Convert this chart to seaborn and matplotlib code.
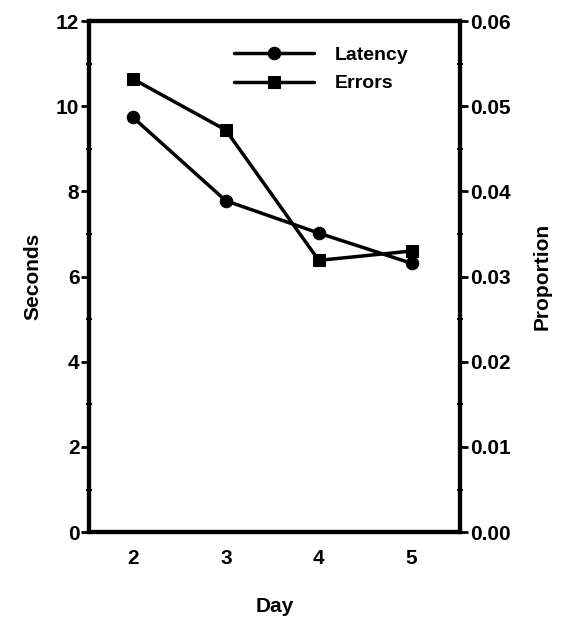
import matplotlib
matplotlib.use("Agg")
import matplotlib.pyplot as plt
import seaborn as sns
import pandas as pd
from matplotlib.ticker import MultipleLocator

sns.set_theme(style="white")
plt.rcParams['font.family'] = ['Liberation Sans', 'DejaVu Sans']
plt.rcParams['font.weight'] = 'bold'
plt.rcParams['text.color'] = 'black'
plt.rcParams['axes.labelcolor'] = 'black'
plt.rcParams['xtick.color'] = 'black'
plt.rcParams['ytick.color'] = 'black'

days = [2, 3, 4, 5]
latency_seconds = [9.74, 7.78, 7.02, 6.31]
errors_proportion = [0.0532, 0.0472, 0.0319, 0.0330]
left_ticks = [0, 2, 4, 6, 8, 10, 12]
right_ticks = [0.00, 0.01, 0.02, 0.03, 0.04, 0.05, 0.06]
right_tick_labels = ["0.00", "0.01", "0.02", "0.03", "0.04", "0.05", "0.06"]

df_lat = pd.DataFrame({"Day": days, "Seconds": latency_seconds})
df_err = pd.DataFrame({"Day": days, "Proportion": errors_proportion})

fig = plt.figure(figsize=(5.61, 6.18), dpi=100)
ax = fig.add_axes([0.159, 0.139, 0.661, 0.827])
ax2 = ax.twinx()

sns.lineplot(data=df_lat, x="Day", y="Seconds", ax=ax, color="black",
             marker="o", markersize=9, linewidth=2.5, markeredgecolor="black",
             label="Latency", legend=False)
sns.lineplot(data=df_err, x="Day", y="Proportion", ax=ax2, color="black",
             marker="s", markersize=9, linewidth=2.5, markeredgecolor="black",
             label="Errors", legend=False)

ax.set_xlim(1.53, 5.52)
ax.set_ylim(0, 12)
ax2.set_ylim(0, 0.06)

ax.set_yticks(left_ticks)
ax.set_yticklabels([str(t) for t in left_ticks], fontsize=15, fontweight='bold')
ax.yaxis.set_minor_locator(MultipleLocator(1))
ax2.set_yticks(right_ticks)
ax2.set_yticklabels(right_tick_labels, fontsize=15, fontweight='bold')
ax2.yaxis.set_minor_locator(MultipleLocator(0.005))

ax.set_xticks(days)
ax.set_xticklabels([str(d) for d in days], fontsize=15, fontweight='bold')
ax.tick_params(axis='x', length=0, pad=12)
ax.tick_params(axis='y', which='major', direction='out', length=6, width=2, pad=1, left=True)
ax.tick_params(axis='y', which='minor', direction='inout', length=4, width=1.5, left=True)
ax2.tick_params(axis='y', which='major', direction='out', length=6, width=2, pad=1, right=True)
ax2.tick_params(axis='y', which='minor', direction='inout', length=4, width=1.5, right=True)

for a in (ax, ax2):
    for s in a.spines.values():
        s.set_linewidth(3)
        s.set_color("black")

ax.set_xlabel("Day", fontsize=15, fontweight='bold', labelpad=21)
ax.set_ylabel("Seconds", fontsize=15, fontweight='bold', labelpad=10)
ax2.set_ylabel("Proportion", fontsize=15, fontweight='bold', labelpad=16)

h1, l1 = ax.get_legend_handles_labels()
h2, l2 = ax2.get_legend_handles_labels()
leg = ax2.legend(h1 + h2, l1 + l2, loc="upper left", bbox_to_anchor=(0.39, 0.95),
                 frameon=False, borderaxespad=0, borderpad=0,
                 handlelength=4.1, handletextpad=1.1, labelspacing=0.55,
                 prop={'size': 14, 'weight': 'bold'})
for t in leg.get_texts():
    t.set_color("black")

fig.savefig("out.png", dpi=100)
